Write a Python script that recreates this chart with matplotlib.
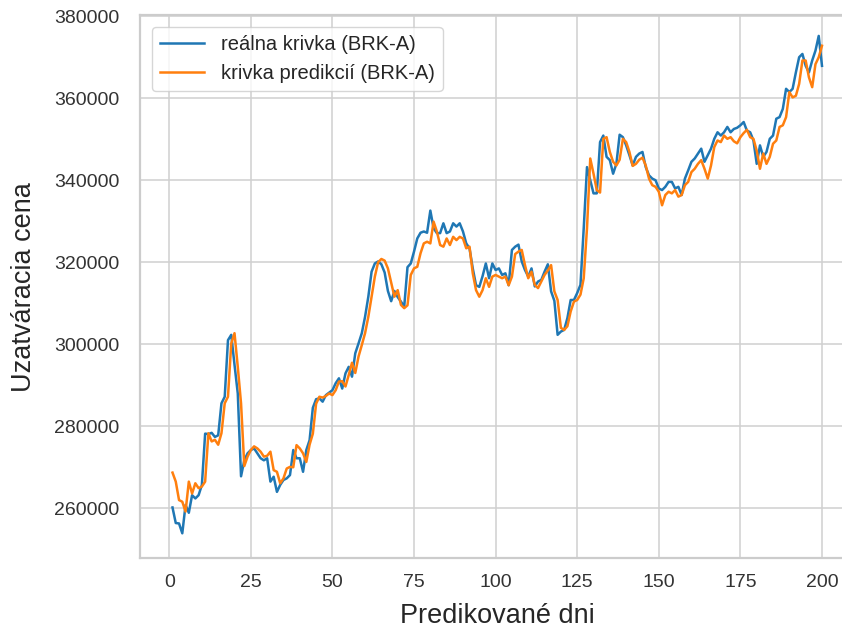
import matplotlib
matplotlib.use('Agg')
import matplotlib.pyplot as plt
import numpy as np

days = np.arange(1, 201)

real_curve = [
    260200, 256400, 256300, 253900, 260800, 258900, 263200, 262400, 263200, 265700,
    278200, 278100, 278400, 277400, 277800, 285600, 287200, 301000, 302300, 295000,
    288000, 267800, 271700, 273400, 274200, 274600, 273400, 272200, 271700, 272200,
    266500, 267700, 264000, 265700, 266900, 267300, 268100, 274200, 272200, 272200,
    268900, 274200, 276600, 284500, 286600, 286800, 286000, 287600, 288200, 288800,
    290500, 291700, 289200, 292900, 294500, 292100, 297800, 300200, 302700, 306700,
    311600, 317700, 319700, 320200, 319500, 317500, 313000, 310500, 313000, 311500,
    310400, 309200, 318800, 319700, 322600, 325800, 327200, 327500, 327200, 332600,
    328300, 327100, 327100, 329500, 327100, 327500, 329500, 328700, 329500, 327500,
    324600, 323400, 318500, 314400, 314000, 316600, 319700, 316100, 319700, 318100,
    318500, 316900, 317300, 314400, 323000, 323800, 324300, 320200, 318100, 316500,
    318500, 314100, 315300, 315700, 317700, 319500, 312900, 310600, 302300, 303100,
    303500, 306400, 310800, 310800, 312500, 314500, 328300, 343200, 340000, 336800,
    336800, 349300, 350900, 345700, 344900, 341600, 344000, 351100, 350500, 348500,
    346100, 343600, 345700, 346500, 346900, 343200, 341200, 340400, 340000, 338000,
    337600, 338400, 339600, 339600, 338000, 338400, 336400, 340400, 342400, 344500,
    345300, 346500, 347700, 344500, 346100, 347700, 350100, 351700, 350900, 351700,
    353000, 351700, 352500, 352800, 353400, 354200, 352100, 351700, 349700, 344000,
    348500, 345700, 346900, 350100, 350900, 355000, 355400, 357400, 362300, 361500,
    362300, 366300, 370000, 370800, 367900, 366300, 369200, 371600, 375200, 367900,
]

pred_curve = [
    268700, 266500, 262000, 261600, 259200, 266500, 263600, 266100, 264900, 265300,
    266500, 278300, 276300, 276700, 275500, 278300, 285600, 287200, 300200, 302700,
    294500, 285600, 270300, 272600, 274200, 275100, 274600, 273800, 272600, 272800,
    273800, 269300, 268900, 266100, 267300, 269700, 270100, 270000, 275400, 274600,
    273400, 271300, 275500, 278200, 285500, 287200, 287000, 287400, 288000, 287600,
    288800, 290900, 291000, 289700, 292500, 295500, 293000, 297000, 299800, 302700,
    306700, 311600, 316500, 320000, 320800, 320400, 318500, 315000, 311600, 313200,
    309600, 308800, 309500, 316900, 318500, 318900, 322200, 324600, 325000, 324600,
    329900, 327500, 324200, 323800, 325800, 324200, 326200, 325400, 326200, 325800,
    323400, 323800, 317300, 313200, 311600, 313200, 316100, 314000, 316500, 316900,
    316500, 316100, 316500, 314400, 316500, 322000, 322600, 323000, 319300, 316100,
    317700, 314500, 313700, 315300, 316900, 318000, 319300, 312900, 310800, 304000,
    303500, 304400, 308000, 310400, 310800, 312100, 316100, 328300, 345300, 341600,
    337600, 337000, 350100, 350500, 346900, 344500, 343600, 345000, 350100, 349300,
    346900, 343500, 344000, 345000, 345500, 343600, 340400, 338800, 338400, 337200,
    333900, 336400, 337200, 336800, 337600, 336000, 336400, 338800, 339600, 342000,
    342800, 344000, 344900, 342800, 340400, 343600, 348100, 349700, 349300, 350900,
    350100, 350500, 349500, 349000, 350500, 351500, 352300, 350500, 350100, 347200,
    342800, 346500, 344000, 345700, 348900, 349700, 353000, 353400, 355400, 361500,
    360200, 360600, 363500, 369200, 369200, 365100, 362700, 368300, 370000, 372800,
]

plt.rcParams['font.family'] = ['Liberation Sans', 'DejaVu Sans']

fig = plt.figure(figsize=(8.42, 6.30), dpi=100)
# axes run slightly past the right edge, as in the reference crop
ax = fig.add_axes([0.1663, 0.1138, 0.8485, 0.8624])

ax.plot(days, real_curve, color='#1f77b4', lw=1.8, label='reálna krivka (BRK-A)')
ax.plot(days, pred_curve, color='#ff7f0e', lw=1.8, label='krivka predikcií (BRK-A)')

ax.set_xlim(-8.95, 209.95)
ax.set_ylim(247800, 380300)
ax.set_xticks(np.arange(0, 201, 25))
ax.set_yticks(np.arange(260000, 380001, 20000))

ax.grid(True, color='#d0d0d0', lw=1.1)
ax.set_axisbelow(True)
for s in ax.spines.values():
    s.set_color('#cccccc')
    s.set_linewidth(1.6)

ax.tick_params(axis='both', length=0, labelsize=14, labelcolor='#333333')
ax.tick_params(axis='x', pad=11)
ax.tick_params(axis='y', pad=15)

ax.set_xlabel('Predikované dni', fontsize=19.5, color='#262626', labelpad=9)
ax.set_ylabel('Uzatváracia cena', fontsize=19.5, color='#262626', labelpad=12)

leg = ax.legend(loc='upper left', fontsize=14.5, handlelength=2.2,
                frameon=True, fancybox=True, borderaxespad=0.6)
leg.get_frame().set_edgecolor('#cccccc')
for t in leg.get_texts():
    t.set_color('#262626')

plt.savefig('out.png', dpi=100)
